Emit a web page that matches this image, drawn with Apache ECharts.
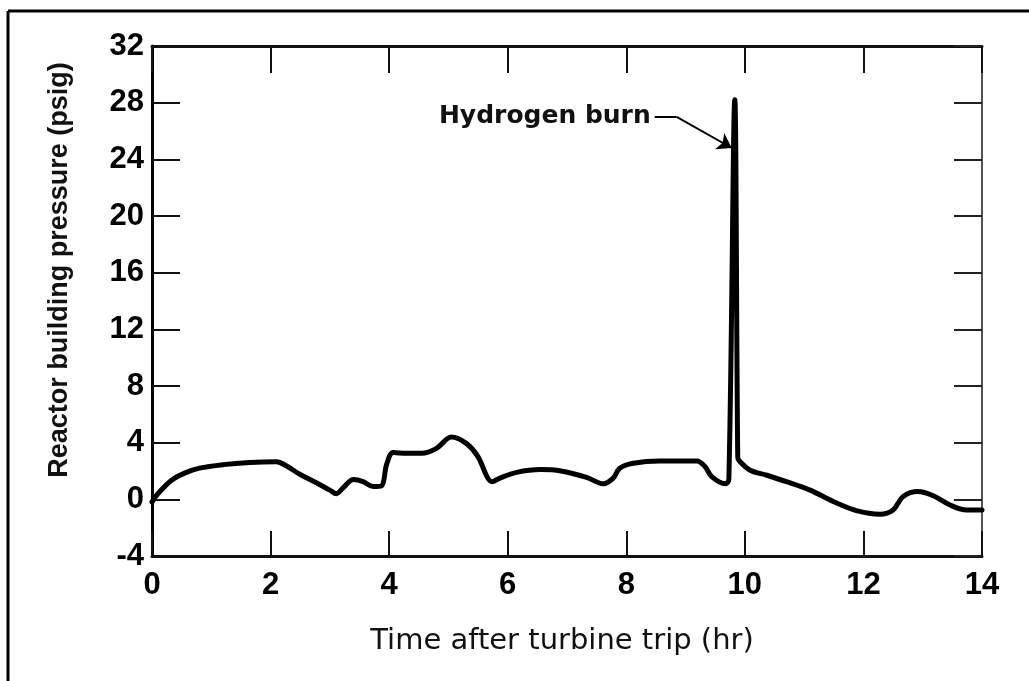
<!DOCTYPE html>
<html>
<head>
<meta charset="utf-8">
<script src="https://cdn.jsdelivr.net/npm/echarts@6/dist/echarts.min.js"></script>
<style>
  html, body { margin: 0; padding: 0; background: #fff; }
  #chart { width: 1029px; height: 681px; }
</style>
</head>
<body>
<div id="chart"></div>
<script>
// time after turbine trip (hr)
var hours = [0, 0.1, 0.33, 0.55, 0.8, 1.2, 1.65, 2.1, 2.27, 2.5, 2.78, 3.0, 3.11, 3.22, 3.4, 3.56,
  3.73, 3.87, 3.96, 4.07, 4.3, 4.55, 4.8, 5.05, 5.3, 5.5, 5.65, 5.73, 5.87, 6.15, 6.55, 6.9,
  7.33, 7.61, 7.78, 7.89, 8.12, 8.57, 9.19, 9.33, 9.44, 9.67, 9.73, 9.83, 9.88, 9.9, 10.09,
  10.37, 10.7, 11.1, 11.49, 11.88, 12.28, 12.5, 12.67, 12.92, 13.18, 13.46, 13.74, 14.0];
// reactor building pressure (psig)
var pressure = [-0.2, 0.4, 1.35, 1.85, 2.2, 2.45, 2.6, 2.65, 2.35, 1.75, 1.15, 0.65, 0.4, 0.8, 1.4, 1.25,
  0.9, 0.95, 2.5, 3.3, 3.25, 3.25, 3.6, 4.4, 3.95, 3.0, 1.6, 1.25, 1.5, 1.9, 2.1, 2.0,
  1.55, 1.1, 1.5, 2.2, 2.55, 2.7, 2.7, 2.3, 1.6, 1.1, 1.4, 28.2, 3.0, 2.75, 2.05,
  1.7, 1.25, 0.65, -0.15, -0.8, -1.05, -0.75, 0.2, 0.55, 0.25, -0.4, -0.75, -0.75];

var xTicks = { min: 0, max: 14, step: 2 };
var yTicks = { min: -4, max: 32, step: 4 };

// annotation: label anchor, leader bend, arrow tip
var burnLabel = 'Hydrogen burn';
var burnLeader = [[8.48, 27.0], [8.85, 27.0], [9.78, 24.8]];

var points = hours.map(function (h, i) { return [h, pressure[i]]; });

var chart = echarts.init(document.getElementById('chart'));

var tickFont = { color: '#000', fontSize: 31, fontWeight: 'bold', fontFamily: 'Liberation Sans' };

option = {
  backgroundColor: '#fff',
  animation: false,
  grid: { left: 152, top: 46, right: 47, bottom: 125 },
  xAxis: [
    {
      type: 'value', position: 'bottom',
      min: xTicks.min, max: xTicks.max, interval: xTicks.step,
      axisLine: { onZero: false, lineStyle: { color: '#111', width: 3 } },
      axisTick: { inside: true, length: 25, lineStyle: { color: '#111', width: 2 } },
      axisLabel: Object.assign({ margin: 14 }, tickFont),
      splitLine: { show: false }
    },
    {
      type: 'value', position: 'top',
      min: xTicks.min, max: xTicks.max, interval: xTicks.step,
      axisLine: { onZero: false, lineStyle: { color: '#111', width: 3 } },
      axisTick: { inside: true, length: 27, lineStyle: { color: '#111', width: 2 } },
      axisLabel: { show: false },
      splitLine: { show: false }
    }
  ],
  yAxis: [
    {
      type: 'value', position: 'left',
      min: yTicks.min, max: yTicks.max, interval: yTicks.step,
      axisLine: { onZero: false, lineStyle: { color: '#000', width: 3 } },
      axisTick: { inside: true, length: 28, lineStyle: { color: '#111', width: 2 } },
      axisLabel: Object.assign({ margin: 8 }, tickFont),
      splitLine: { show: false }
    },
    {
      type: 'value', position: 'right',
      min: yTicks.min, max: yTicks.max, interval: yTicks.step,
      axisLine: { onZero: false, lineStyle: { color: '#555', width: 2 } },
      axisTick: { inside: true, length: 28, lineStyle: { color: '#222', width: 2 } },
      axisLabel: { show: false },
      splitLine: { show: false }
    }
  ],
  graphic: [
    // scan frame
    { type: 'line', shape: { x1: 8, y1: 11, x2: 1029, y2: 11 }, style: { stroke: '#000', lineWidth: 3 } },
    { type: 'line', shape: { x1: 8, y1: 11, x2: 8, y2: 681 }, style: { stroke: '#000', lineWidth: 3 } },
    {
      type: 'text', x: 60, y: 270, rotation: Math.PI / 2,
      style: {
        text: 'Reactor building pressure (psig)', fill: '#111',
        font: 'bold 27px "Liberation Sans", sans-serif',
        textAlign: 'center', textVerticalAlign: 'middle'
      }
    },
    {
      type: 'text', x: 562, y: 641,
      style: {
        text: 'Time after turbine trip (hr)', fill: '#111',
        font: '29px "DejaVu Sans", sans-serif',
        textAlign: 'center', textVerticalAlign: 'middle'
      }
    }
  ],
  series: [
    {
      type: 'line',
      data: points,
      smooth: 0.35,
      showSymbol: false,
      lineStyle: { color: '#000', width: 5, join: 'round', cap: 'round' },
      markPoint: {
        symbol: 'circle', symbolSize: 0,
        label: {
          show: true, position: 'left', distance: 4,
          formatter: burnLabel, color: '#111',
          fontSize: 25, fontWeight: 'bold', fontFamily: 'DejaVu Sans'
        },
        data: [{ coord: burnLeader[0] }]
      },
      markLine: {
        silent: true,
        label: { show: false },
        lineStyle: { color: '#000', width: 2, type: 'solid' },
        data: [
          [{ coord: burnLeader[0], symbol: 'none' }, { coord: burnLeader[1], symbol: 'none' }],
          [{ coord: burnLeader[1], symbol: 'none' }, { coord: burnLeader[2], symbol: 'arrow', symbolSize: 14 }]
        ]
      }
    }
  ]
};

chart.setOption(option);
</script>
</body>
</html>
